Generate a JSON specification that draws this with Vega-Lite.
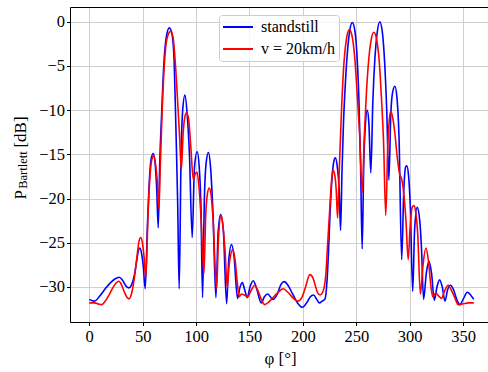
{
  "$schema": "https://vega.github.io/schema/vega-lite/v6.json",
  "width": 418,
  "height": 315,
  "autosize": "none",
  "padding": {"left": 70, "top": 7, "right": 0, "bottom": 50},
  "background": "white",
  "resolve": {"axis": {"x": "independent"}},
  "config": {
    "view": {"stroke": null},
    "font": "Liberation Serif",
    "axis": {
      "domain": true,
      "domainColor": "black",
      "domainWidth": 1,
      "grid": true,
      "gridColor": "#cfcfcf",
      "gridWidth": 1,
      "tickColor": "black",
      "tickSize": 3.5,
      "tickWidth": 1,
      "labelFont": "Liberation Serif",
      "labelFontSize": 16.5,
      "labelColor": "black",
      "titleFont": "Liberation Serif",
      "titleFontSize": 17,
      "titleFontWeight": "normal",
      "titleColor": "black"
    },
    "legend": {
      "labelFont": "Liberation Serif",
      "labelFontSize": 16,
      "labelColor": "black"
    }
  },
  "layer": [
    {
      "data": {
        "values": [
          {"phi": 0, "P": -31.4, "s": "standstill"},
          {"phi": 5, "P": -31.6, "s": "standstill"},
          {"phi": 10, "P": -31.0, "s": "standstill"},
          {"phi": 15, "P": -30.2, "s": "standstill"},
          {"phi": 20, "P": -29.5, "s": "standstill"},
          {"phi": 24, "P": -29.1, "s": "standstill"},
          {"phi": 28, "P": -28.9, "s": "standstill"},
          {"phi": 31, "P": -29.2, "s": "standstill"},
          {"phi": 34.5, "P": -29.9, "s": "standstill"},
          {"phi": 37.2, "P": -30.1, "s": "standstill"},
          {"phi": 39.5, "P": -29.8, "s": "standstill"},
          {"phi": 42, "P": -28.8, "s": "standstill"},
          {"phi": 44.5, "P": -27.0, "s": "standstill"},
          {"phi": 46, "P": -25.9, "s": "standstill"},
          {"phi": 47.4, "P": -25.6, "s": "standstill"},
          {"phi": 49, "P": -26.2, "s": "standstill"},
          {"phi": 50.5, "P": -27.5, "s": "standstill"},
          {"phi": 52.4, "P": -30.2, "s": "standstill"},
          {"phi": 54.5, "P": -23, "s": "standstill"},
          {"phi": 56.5, "P": -17.5, "s": "standstill"},
          {"phi": 58, "P": -15.5, "s": "standstill"},
          {"phi": 60, "P": -14.9, "s": "standstill"},
          {"phi": 61.8, "P": -16.2, "s": "standstill"},
          {"phi": 63.2, "P": -19, "s": "standstill"},
          {"phi": 64.6, "P": -23.3, "s": "standstill"},
          {"phi": 66, "P": -16, "s": "standstill"},
          {"phi": 67.7, "P": -10.7, "s": "standstill"},
          {"phi": 70, "P": -4.5, "s": "standstill"},
          {"phi": 72.5, "P": -1.5, "s": "standstill"},
          {"phi": 75, "P": -0.7, "s": "standstill"},
          {"phi": 77.5, "P": -1.4, "s": "standstill"},
          {"phi": 79.5, "P": -4.5, "s": "standstill"},
          {"phi": 81.1, "P": -11.8, "s": "standstill"},
          {"phi": 82.8, "P": -20.5, "s": "standstill"},
          {"phi": 84.2, "P": -30.2, "s": "standstill"},
          {"phi": 86, "P": -15, "s": "standstill"},
          {"phi": 87.5, "P": -10, "s": "standstill"},
          {"phi": 89.6, "P": -8.3, "s": "standstill"},
          {"phi": 91.7, "P": -10.5, "s": "standstill"},
          {"phi": 93.8, "P": -15, "s": "standstill"},
          {"phi": 96.4, "P": -24.4, "s": "standstill"},
          {"phi": 98.5, "P": -16.5, "s": "standstill"},
          {"phi": 101, "P": -14.7, "s": "standstill"},
          {"phi": 103, "P": -16.5, "s": "standstill"},
          {"phi": 104.6, "P": -21, "s": "standstill"},
          {"phi": 106.1, "P": -31.2, "s": "standstill"},
          {"phi": 107.8, "P": -20, "s": "standstill"},
          {"phi": 109.6, "P": -15.8, "s": "standstill"},
          {"phi": 111.6, "P": -14.8, "s": "standstill"},
          {"phi": 113.6, "P": -16.5, "s": "standstill"},
          {"phi": 115.8, "P": -21.5, "s": "standstill"},
          {"phi": 118.6, "P": -31.2, "s": "standstill"},
          {"phi": 120.6, "P": -24, "s": "standstill"},
          {"phi": 123, "P": -21.8, "s": "standstill"},
          {"phi": 125.5, "P": -23.5, "s": "standstill"},
          {"phi": 128.6, "P": -31.9, "s": "standstill"},
          {"phi": 130.6, "P": -27, "s": "standstill"},
          {"phi": 133.2, "P": -25.2, "s": "standstill"},
          {"phi": 135.6, "P": -26.6, "s": "standstill"},
          {"phi": 138.8, "P": -31.3, "s": "standstill"},
          {"phi": 141, "P": -30.1, "s": "standstill"},
          {"phi": 143.3, "P": -29.5, "s": "standstill"},
          {"phi": 145.5, "P": -30.3, "s": "standstill"},
          {"phi": 147.9, "P": -31.2, "s": "standstill"},
          {"phi": 150.5, "P": -30, "s": "standstill"},
          {"phi": 153.5, "P": -29.3, "s": "standstill"},
          {"phi": 157, "P": -30.3, "s": "standstill"},
          {"phi": 161, "P": -31.8, "s": "standstill"},
          {"phi": 164, "P": -31.1, "s": "standstill"},
          {"phi": 167.2, "P": -30.8, "s": "standstill"},
          {"phi": 169.5, "P": -31.1, "s": "standstill"},
          {"phi": 172, "P": -31.4, "s": "standstill"},
          {"phi": 176, "P": -30.8, "s": "standstill"},
          {"phi": 179.5, "P": -29.7, "s": "standstill"},
          {"phi": 182.6, "P": -29.4, "s": "standstill"},
          {"phi": 186, "P": -29.8, "s": "standstill"},
          {"phi": 190, "P": -30.7, "s": "standstill"},
          {"phi": 195, "P": -31.8, "s": "standstill"},
          {"phi": 199.5, "P": -32.3, "s": "standstill"},
          {"phi": 204, "P": -31.7, "s": "standstill"},
          {"phi": 207, "P": -31.1, "s": "standstill"},
          {"phi": 210, "P": -30.9, "s": "standstill"},
          {"phi": 213, "P": -31.4, "s": "standstill"},
          {"phi": 215.5, "P": -31.8, "s": "standstill"},
          {"phi": 218, "P": -31.6, "s": "standstill"},
          {"phi": 220.6, "P": -31.4, "s": "standstill"},
          {"phi": 222.5, "P": -29.5, "s": "standstill"},
          {"phi": 224, "P": -26, "s": "standstill"},
          {"phi": 225.5, "P": -21.5, "s": "standstill"},
          {"phi": 227.2, "P": -17.8, "s": "standstill"},
          {"phi": 229, "P": -15.8, "s": "standstill"},
          {"phi": 230.5, "P": -15.4, "s": "standstill"},
          {"phi": 232.3, "P": -16.5, "s": "standstill"},
          {"phi": 234, "P": -19, "s": "standstill"},
          {"phi": 235.3, "P": -23.6, "s": "standstill"},
          {"phi": 236.6, "P": -17, "s": "standstill"},
          {"phi": 238, "P": -11.5, "s": "standstill"},
          {"phi": 240, "P": -6.5, "s": "standstill"},
          {"phi": 242, "P": -3, "s": "standstill"},
          {"phi": 244, "P": -0.9, "s": "standstill"},
          {"phi": 246.3, "P": -0.1, "s": "standstill"},
          {"phi": 248.5, "P": -0.9, "s": "standstill"},
          {"phi": 250.5, "P": -3.5, "s": "standstill"},
          {"phi": 252.5, "P": -9, "s": "standstill"},
          {"phi": 254, "P": -16, "s": "standstill"},
          {"phi": 255.5, "P": -25.7, "s": "standstill"},
          {"phi": 257, "P": -16, "s": "standstill"},
          {"phi": 258.6, "P": -11.5, "s": "standstill"},
          {"phi": 260.2, "P": -10.0, "s": "standstill"},
          {"phi": 261.8, "P": -11.5, "s": "standstill"},
          {"phi": 263.6, "P": -17.1, "s": "standstill"},
          {"phi": 265.5, "P": -9, "s": "standstill"},
          {"phi": 267.5, "P": -4, "s": "standstill"},
          {"phi": 269.5, "P": -1.3, "s": "standstill"},
          {"phi": 272, "P": 0.0, "s": "standstill"},
          {"phi": 274.5, "P": -1.3, "s": "standstill"},
          {"phi": 276.5, "P": -4.5, "s": "standstill"},
          {"phi": 278.5, "P": -10, "s": "standstill"},
          {"phi": 280.5, "P": -17.9, "s": "standstill"},
          {"phi": 282.3, "P": -10.5, "s": "standstill"},
          {"phi": 284, "P": -8, "s": "standstill"},
          {"phi": 286.1, "P": -7.3, "s": "standstill"},
          {"phi": 288, "P": -8.5, "s": "standstill"},
          {"phi": 290, "P": -13, "s": "standstill"},
          {"phi": 292.5, "P": -26.9, "s": "standstill"},
          {"phi": 294.5, "P": -19, "s": "standstill"},
          {"phi": 296.3, "P": -16.4, "s": "standstill"},
          {"phi": 297.3, "P": -16.3, "s": "standstill"},
          {"phi": 299, "P": -17.5, "s": "standstill"},
          {"phi": 300.6, "P": -21, "s": "standstill"},
          {"phi": 302.8, "P": -30.5, "s": "standstill"},
          {"phi": 304.6, "P": -23.5, "s": "standstill"},
          {"phi": 307, "P": -21.0, "s": "standstill"},
          {"phi": 309.4, "P": -22.5, "s": "standstill"},
          {"phi": 311, "P": -25.5, "s": "standstill"},
          {"phi": 313, "P": -31.4, "s": "standstill"},
          {"phi": 315.5, "P": -28.5, "s": "standstill"},
          {"phi": 318, "P": -27.1, "s": "standstill"},
          {"phi": 320.5, "P": -28.5, "s": "standstill"},
          {"phi": 323, "P": -31.5, "s": "standstill"},
          {"phi": 325.5, "P": -30, "s": "standstill"},
          {"phi": 328, "P": -29.2, "s": "standstill"},
          {"phi": 330.5, "P": -30, "s": "standstill"},
          {"phi": 333, "P": -31.6, "s": "standstill"},
          {"phi": 335.5, "P": -30.3, "s": "standstill"},
          {"phi": 338.3, "P": -29.8, "s": "standstill"},
          {"phi": 341, "P": -30.3, "s": "standstill"},
          {"phi": 344, "P": -31.4, "s": "standstill"},
          {"phi": 347, "P": -32.0, "s": "standstill"},
          {"phi": 350, "P": -31.4, "s": "standstill"},
          {"phi": 354, "P": -30.6, "s": "standstill"},
          {"phi": 357, "P": -30.9, "s": "standstill"},
          {"phi": 360, "P": -31.4, "s": "standstill"},

          {"phi": 0, "P": -31.8, "s": "v = 20km/h"},
          {"phi": 5, "P": -31.8, "s": "v = 20km/h"},
          {"phi": 9, "P": -31.95, "s": "v = 20km/h"},
          {"phi": 11.6, "P": -32.0, "s": "v = 20km/h"},
          {"phi": 15, "P": -31.6, "s": "v = 20km/h"},
          {"phi": 19, "P": -30.8, "s": "v = 20km/h"},
          {"phi": 23, "P": -29.9, "s": "v = 20km/h"},
          {"phi": 26, "P": -29.45, "s": "v = 20km/h"},
          {"phi": 27.8, "P": -29.35, "s": "v = 20km/h"},
          {"phi": 30, "P": -29.7, "s": "v = 20km/h"},
          {"phi": 33, "P": -30.6, "s": "v = 20km/h"},
          {"phi": 35.5, "P": -31.2, "s": "v = 20km/h"},
          {"phi": 37.2, "P": -31.35, "s": "v = 20km/h"},
          {"phi": 39.5, "P": -30.8, "s": "v = 20km/h"},
          {"phi": 42, "P": -29.2, "s": "v = 20km/h"},
          {"phi": 44.5, "P": -26.8, "s": "v = 20km/h"},
          {"phi": 46.5, "P": -24.9, "s": "v = 20km/h"},
          {"phi": 48.2, "P": -24.4, "s": "v = 20km/h"},
          {"phi": 49.8, "P": -25, "s": "v = 20km/h"},
          {"phi": 51.4, "P": -26.7, "s": "v = 20km/h"},
          {"phi": 53, "P": -29.0, "s": "v = 20km/h"},
          {"phi": 55, "P": -22, "s": "v = 20km/h"},
          {"phi": 57, "P": -17.3, "s": "v = 20km/h"},
          {"phi": 58.6, "P": -15.6, "s": "v = 20km/h"},
          {"phi": 60.5, "P": -15.2, "s": "v = 20km/h"},
          {"phi": 62.3, "P": -16.3, "s": "v = 20km/h"},
          {"phi": 63.8, "P": -18.2, "s": "v = 20km/h"},
          {"phi": 65.2, "P": -21.2, "s": "v = 20km/h"},
          {"phi": 66.5, "P": -16.5, "s": "v = 20km/h"},
          {"phi": 68, "P": -11, "s": "v = 20km/h"},
          {"phi": 70.5, "P": -4.5, "s": "v = 20km/h"},
          {"phi": 73, "P": -1.8, "s": "v = 20km/h"},
          {"phi": 76.2, "P": -1.1, "s": "v = 20km/h"},
          {"phi": 78.5, "P": -1.8, "s": "v = 20km/h"},
          {"phi": 80.5, "P": -4.5, "s": "v = 20km/h"},
          {"phi": 83, "P": -9.5, "s": "v = 20km/h"},
          {"phi": 84.6, "P": -13, "s": "v = 20km/h"},
          {"phi": 86.2, "P": -16.7, "s": "v = 20km/h"},
          {"phi": 88, "P": -12.5, "s": "v = 20km/h"},
          {"phi": 89.5, "P": -10.8, "s": "v = 20km/h"},
          {"phi": 91.1, "P": -10.3, "s": "v = 20km/h"},
          {"phi": 93, "P": -11, "s": "v = 20km/h"},
          {"phi": 95, "P": -14, "s": "v = 20km/h"},
          {"phi": 97.5, "P": -17.9, "s": "v = 20km/h"},
          {"phi": 99, "P": -17.3, "s": "v = 20km/h"},
          {"phi": 100.9, "P": -17.0, "s": "v = 20km/h"},
          {"phi": 102.6, "P": -18.5, "s": "v = 20km/h"},
          {"phi": 104.6, "P": -22, "s": "v = 20km/h"},
          {"phi": 107.4, "P": -28.5, "s": "v = 20km/h"},
          {"phi": 109, "P": -22, "s": "v = 20km/h"},
          {"phi": 110.6, "P": -19.5, "s": "v = 20km/h"},
          {"phi": 112.3, "P": -18.8, "s": "v = 20km/h"},
          {"phi": 114, "P": -19.5, "s": "v = 20km/h"},
          {"phi": 116, "P": -22.5, "s": "v = 20km/h"},
          {"phi": 119.2, "P": -30.2, "s": "v = 20km/h"},
          {"phi": 121, "P": -24.5, "s": "v = 20km/h"},
          {"phi": 123.5, "P": -21.9, "s": "v = 20km/h"},
          {"phi": 125.5, "P": -23.5, "s": "v = 20km/h"},
          {"phi": 127.2, "P": -26, "s": "v = 20km/h"},
          {"phi": 129.2, "P": -30.1, "s": "v = 20km/h"},
          {"phi": 131, "P": -27.5, "s": "v = 20km/h"},
          {"phi": 134.3, "P": -25.8, "s": "v = 20km/h"},
          {"phi": 136.6, "P": -27, "s": "v = 20km/h"},
          {"phi": 138.6, "P": -29.5, "s": "v = 20km/h"},
          {"phi": 140.4, "P": -31.1, "s": "v = 20km/h"},
          {"phi": 142.5, "P": -30.8, "s": "v = 20km/h"},
          {"phi": 145, "P": -30.9, "s": "v = 20km/h"},
          {"phi": 148.5, "P": -31.1, "s": "v = 20km/h"},
          {"phi": 151.5, "P": -30.4, "s": "v = 20km/h"},
          {"phi": 155, "P": -29.8, "s": "v = 20km/h"},
          {"phi": 158.5, "P": -30.6, "s": "v = 20km/h"},
          {"phi": 161.5, "P": -31.5, "s": "v = 20km/h"},
          {"phi": 164.2, "P": -32.0, "s": "v = 20km/h"},
          {"phi": 168, "P": -31.7, "s": "v = 20km/h"},
          {"phi": 172, "P": -31.2, "s": "v = 20km/h"},
          {"phi": 176, "P": -30.7, "s": "v = 20km/h"},
          {"phi": 181.6, "P": -30.2, "s": "v = 20km/h"},
          {"phi": 186, "P": -30.6, "s": "v = 20km/h"},
          {"phi": 190.5, "P": -31.2, "s": "v = 20km/h"},
          {"phi": 195, "P": -31.6, "s": "v = 20km/h"},
          {"phi": 199, "P": -31.2, "s": "v = 20km/h"},
          {"phi": 202.5, "P": -30.0, "s": "v = 20km/h"},
          {"phi": 206.5, "P": -28.6, "s": "v = 20km/h"},
          {"phi": 209.5, "P": -29.0, "s": "v = 20km/h"},
          {"phi": 212, "P": -30.0, "s": "v = 20km/h"},
          {"phi": 214, "P": -30.7, "s": "v = 20km/h"},
          {"phi": 216, "P": -30.9, "s": "v = 20km/h"},
          {"phi": 218.5, "P": -30.6, "s": "v = 20km/h"},
          {"phi": 220, "P": -30.0, "s": "v = 20km/h"},
          {"phi": 221.5, "P": -28.6, "s": "v = 20km/h"},
          {"phi": 223, "P": -25.5, "s": "v = 20km/h"},
          {"phi": 225, "P": -21.5, "s": "v = 20km/h"},
          {"phi": 227, "P": -17.8, "s": "v = 20km/h"},
          {"phi": 228.2, "P": -16.8, "s": "v = 20km/h"},
          {"phi": 229.8, "P": -17.3, "s": "v = 20km/h"},
          {"phi": 231.2, "P": -19, "s": "v = 20km/h"},
          {"phi": 232.5, "P": -22.2, "s": "v = 20km/h"},
          {"phi": 234, "P": -17, "s": "v = 20km/h"},
          {"phi": 236, "P": -10.5, "s": "v = 20km/h"},
          {"phi": 238, "P": -5.5, "s": "v = 20km/h"},
          {"phi": 240.5, "P": -2.2, "s": "v = 20km/h"},
          {"phi": 243.5, "P": -0.9, "s": "v = 20km/h"},
          {"phi": 246, "P": -1.6, "s": "v = 20km/h"},
          {"phi": 248.5, "P": -4, "s": "v = 20km/h"},
          {"phi": 251, "P": -8.5, "s": "v = 20km/h"},
          {"phi": 253, "P": -12.5, "s": "v = 20km/h"},
          {"phi": 255.6, "P": -19.3, "s": "v = 20km/h"},
          {"phi": 257.5, "P": -13, "s": "v = 20km/h"},
          {"phi": 259.5, "P": -8, "s": "v = 20km/h"},
          {"phi": 261.5, "P": -4.5, "s": "v = 20km/h"},
          {"phi": 264, "P": -2, "s": "v = 20km/h"},
          {"phi": 266.5, "P": -1.2, "s": "v = 20km/h"},
          {"phi": 269, "P": -2, "s": "v = 20km/h"},
          {"phi": 271.5, "P": -4.5, "s": "v = 20km/h"},
          {"phi": 273.5, "P": -8.5, "s": "v = 20km/h"},
          {"phi": 275.5, "P": -13.5, "s": "v = 20km/h"},
          {"phi": 277.6, "P": -21.9, "s": "v = 20km/h"},
          {"phi": 279.5, "P": -14, "s": "v = 20km/h"},
          {"phi": 281, "P": -11, "s": "v = 20km/h"},
          {"phi": 282.3, "P": -10.1, "s": "v = 20km/h"},
          {"phi": 284, "P": -10.8, "s": "v = 20km/h"},
          {"phi": 286, "P": -12.5, "s": "v = 20km/h"},
          {"phi": 288.5, "P": -15.5, "s": "v = 20km/h"},
          {"phi": 290.5, "P": -17.2, "s": "v = 20km/h"},
          {"phi": 292.5, "P": -17.8, "s": "v = 20km/h"},
          {"phi": 294.5, "P": -19.5, "s": "v = 20km/h"},
          {"phi": 296.5, "P": -22.5, "s": "v = 20km/h"},
          {"phi": 298.6, "P": -26.9, "s": "v = 20km/h"},
          {"phi": 300.5, "P": -23, "s": "v = 20km/h"},
          {"phi": 302.3, "P": -21.0, "s": "v = 20km/h"},
          {"phi": 304, "P": -20.8, "s": "v = 20km/h"},
          {"phi": 305.6, "P": -21.5, "s": "v = 20km/h"},
          {"phi": 307.5, "P": -24, "s": "v = 20km/h"},
          {"phi": 310, "P": -30.8, "s": "v = 20km/h"},
          {"phi": 312.5, "P": -27.5, "s": "v = 20km/h"},
          {"phi": 315.1, "P": -25.6, "s": "v = 20km/h"},
          {"phi": 317.5, "P": -27, "s": "v = 20km/h"},
          {"phi": 319.5, "P": -29.5, "s": "v = 20km/h"},
          {"phi": 321.5, "P": -31.1, "s": "v = 20km/h"},
          {"phi": 324.5, "P": -30.7, "s": "v = 20km/h"},
          {"phi": 327, "P": -31.0, "s": "v = 20km/h"},
          {"phi": 329.8, "P": -31.3, "s": "v = 20km/h"},
          {"phi": 332.5, "P": -30.5, "s": "v = 20km/h"},
          {"phi": 336, "P": -29.8, "s": "v = 20km/h"},
          {"phi": 339.5, "P": -30.5, "s": "v = 20km/h"},
          {"phi": 342.5, "P": -31.3, "s": "v = 20km/h"},
          {"phi": 345.3, "P": -32.0, "s": "v = 20km/h"},
          {"phi": 350, "P": -31.9, "s": "v = 20km/h"},
          {"phi": 355, "P": -31.8, "s": "v = 20km/h"},
          {"phi": 360, "P": -31.8, "s": "v = 20km/h"}
        ]
      },
      "mark": {"type": "line", "strokeWidth": 1.6, "clip": true, "interpolate": "monotone"},
      "encoding": {
        "x": {
          "field": "phi", "type": "quantitative",
          "scale": {"domain": [-18, 373.3], "nice": false, "zero": false},
          "axis": {
            "values": [0, 50, 100, 150, 200, 250, 300, 350],
            "format": "d",
            "labelBaseline": "alphabetic",
            "labelPadding": 16,
            "title": "φ [°]",
            "titleBaseline": "alphabetic",
            "titleX": 210,
            "titleY": 41,
            "titleAlign": "center"
          }
        },
        "y": {
          "field": "P", "type": "quantitative",
          "scale": {"domain": [-33.96, 1.66], "nice": false, "zero": false},
          "axis": {
            "values": [-30, -25, -20, -15, -10, -5, 0],
            "format": "d",
            "labelPadding": 2,
            "title": "P\u00a0\u00a0\u00a0\u00a0\u00a0\u00a0\u00a0\u00a0\u00a0\u00a0[dB]",
            "titleAngle": 270,
            "titleBaseline": "alphabetic",
            "titleAlign": "center",
            "titleX": -45,
            "titleY": 150.5
          }
        },
        "color": {
          "field": "s", "type": "nominal",
          "scale": {"domain": ["standstill", "v = 20km/h"], "range": ["#0000ff", "#ff0000"]},
          "legend": {
            "title": null,
            "orient": "none",
            "legendX": 149,
            "legendY": 8,
            "symbolType": "M-2.5,0H2.5",
            "symbolSize": 144,
            "symbolStrokeWidth": 2,
            "symbolOffset": 7,
            "labelOffset": 15,
            "padding": 4,
            "rowPadding": 6,
            "fillColor": "rgba(255,255,255,0.8)",
            "strokeColor": "#cccccc",
            "cornerRadius": 3
          }
        }
      }
    },
    {
      "data": {"values": [{"label": "Bartlett"}]},
      "mark": {"type": "text", "angle": 270, "align": "left", "baseline": "alphabetic", "fontSize": 12.5, "font": "Liberation Serif", "color": "black"},
      "encoding": {
        "text": {"field": "label"},
        "x": {
          "datum": -57.8,
          "axis": {"orient": "top", "labels": false, "ticks": false, "grid": false, "domain": true, "title": null}
        },
        "y": {"datum": -18.9}
      }
    }
  ]
}
